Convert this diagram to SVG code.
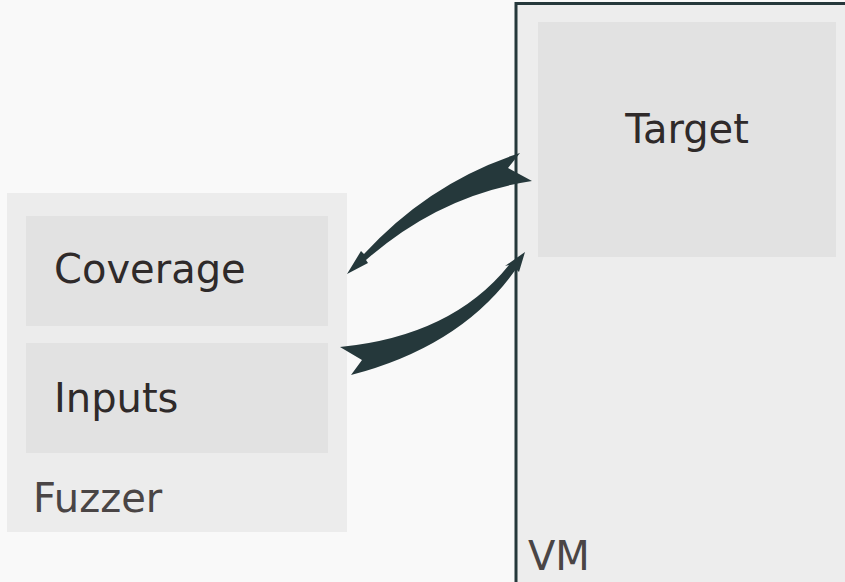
<svg xmlns="http://www.w3.org/2000/svg" width="845" height="582" viewBox="0 0 845 582">
<style>
text{font-family:"DejaVu Sans","Liberation Sans",sans-serif;font-size:40px;fill:#2f2a2a}
.lbl{fill:#4a4545}
.inner{fill:#e2e2e2}
.arrow{fill:#25383b}
</style>
<rect width="845" height="582" fill="#f9f9f9"/>
<g id="vm">
<rect x="516" y="3.500" width="334" height="580" fill="#ededed" stroke="#25383b" stroke-width="3"/>
<text x="528" y="570" class="lbl">VM</text>
</g>
<g id="target">
<rect x="538" y="22" width="298" height="235" class="inner"/>
<text x="687" y="143" text-anchor="middle">Target</text>
</g>
<g id="fuzzer">
<rect x="7" y="193" width="340" height="339" fill="#ececec"/>
<text x="33" y="512" class="lbl">Fuzzer</text>
</g>
<g id="coverage">
<rect x="26" y="216" width="302" height="110" class="inner"/>
<text x="54" y="283">Coverage</text>
</g>
<g id="inputs">
<rect x="26" y="343" width="302" height="110" class="inner"/>
<text x="54" y="412">Inputs</text>
</g>
<g id="connectors">
<path class="arrow" d="M520,153 Q430,182 364,254 L361,251 L347,274 L368,263 L366,260 Q440,195 532,181 L508,168 Z"/>
<path class="arrow" d="M340,347 Q452,336 509,265 L505,266 L525,252 L519,272 L516,269 Q462,346 351,375 L362,360 Z"/>
</g>
</svg>
